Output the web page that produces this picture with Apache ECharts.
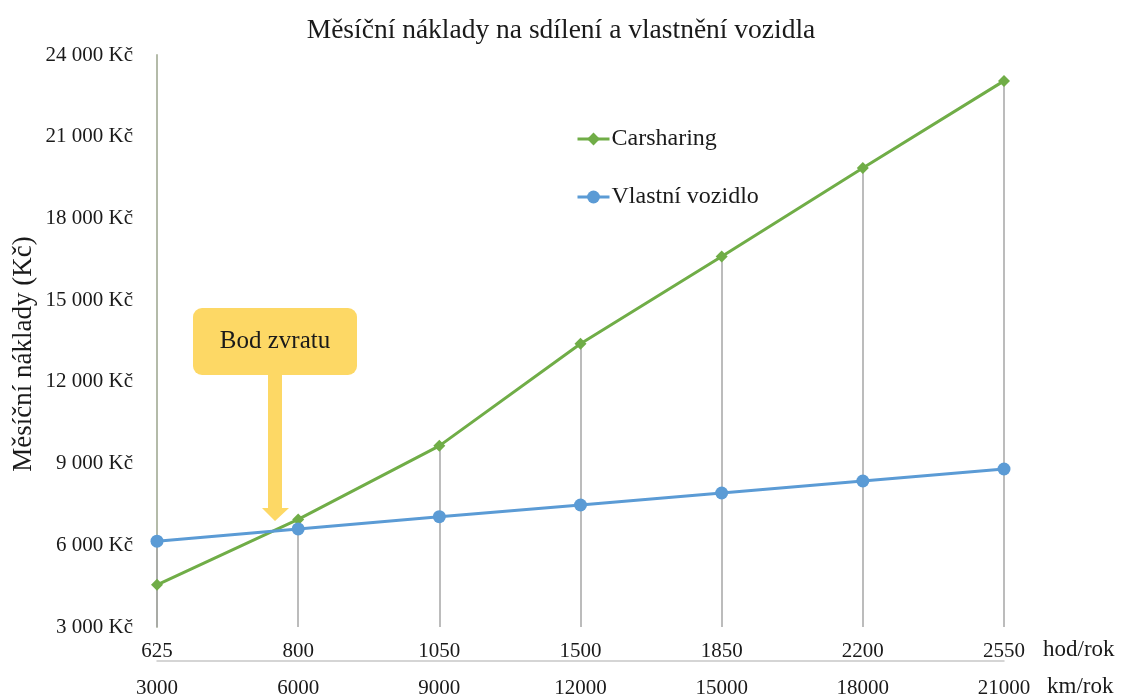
<!DOCTYPE html>
<html>
<head>
<meta charset="utf-8">
<script src="https://cdn.jsdelivr.net/npm/echarts@6/dist/echarts.min.js"></script>
<style>
html,body{margin:0;padding:0;background:#fff;}
#chart{width:1122px;height:695px;}
</style>
</head>
<body>
<div id="chart"></div>
<script>
const hoursPerYear = ['625', '800', '1050', '1500', '1850', '2200', '2550'];
const kmPerYear = ['3000', '6000', '9000', '12000', '15000', '18000', '21000'];
const carsharing = [4550, 6950, 9650, 13400, 16600, 19850, 23050];
const ownCar = [6150, 6600, 7050, 7480, 7920, 8360, 8800];
const yTicks = { min: 3000, max: 24000, interval: 3000 };

const FONT = '"Liberation Serif", "DejaVu Serif", serif';
const TXT = '#1a1a1a';

const dropLines = hoursPerYear.map((h, i) => [
  { coord: [i, Math.max(carsharing[i], ownCar[i])] },
  { coord: [i, yTicks.min] }
]);

function fmt(v) {
  return String(v).replace(/\B(?=(\d{3})+(?!\d))/g, ' ') + ' Kč';
}

const chart = echarts.init(document.getElementById('chart'));
chart.setOption({
  backgroundColor: '#fff',
  animation: false,
  title: {
    text: 'Měsíční náklady na sdílení a vlastnění vozidla',
    left: 'center',
    top: 12,
    textStyle: { fontFamily: FONT, fontSize: 27.5, fontWeight: 'normal', color: TXT }
  },
  legend: {
    orient: 'vertical',
    left: 571,
    top: 122,
    itemGap: 34,
    itemWidth: 32,
    itemHeight: 16,
    lineStyle: { width: 3 },
    textStyle: { fontFamily: FONT, fontSize: 24, color: TXT, padding: [0, 0, 0, -3] },
    data: ['Carsharing', 'Vlastní vozidlo']
  },
  grid: { left: 157, right: 118, top: 55, bottom: 68, outerBoundsMode: 'none' },
  xAxis: [
    {
      type: 'category',
      data: hoursPerYear,
      boundaryGap: false,
      axisLine: { show: false },
      axisTick: { show: false },
      axisLabel: { margin: 14, fontFamily: FONT, fontSize: 21, color: TXT }
    },
    {
      type: 'category',
      data: kmPerYear,
      boundaryGap: false,
      position: 'bottom',
      offset: 34,
      axisLine: { show: true, lineStyle: { color: '#c8c8c8', width: 1.5 } },
      axisTick: { show: false },
      axisLabel: { margin: 17, fontFamily: FONT, fontSize: 21, color: TXT }
    }
  ],
  yAxis: {
    type: 'value',
    min: yTicks.min,
    max: yTicks.max,
    interval: yTicks.interval,
    splitLine: { show: false },
    axisTick: { show: false },
    axisLine: { show: true, lineStyle: { color: '#b4bba9', width: 2 } },
    axisLabel: { margin: 24, fontFamily: FONT, fontSize: 21, color: TXT, formatter: fmt }
  },
  series: [
    {
      name: 'Carsharing',
      type: 'line',
      data: carsharing,
      symbol: 'diamond',
      symbolSize: 12,
      itemStyle: { color: '#70ad47' },
      lineStyle: { color: '#70ad47', width: 3 },
      z: 3,
      markLine: {
        silent: true,
        symbol: 'none',
        label: { show: false },
        lineStyle: { color: '#a6a6a6', width: 1.5, type: 'solid' },
        data: dropLines,
        z: 1
      }
    },
    {
      name: 'Vlastní vozidlo',
      type: 'line',
      data: ownCar,
      symbol: 'circle',
      symbolSize: 13,
      itemStyle: { color: '#5b9bd5' },
      lineStyle: { color: '#5b9bd5', width: 3 },
      z: 4
    }
  ],
  graphic: [
    {
      type: 'text',
      x: 24, y: 354,
      rotation: Math.PI / 2,
      style: { text: 'Měsíční náklady (Kč)', font: '27px ' + FONT, fill: TXT, align: 'center', verticalAlign: 'middle' }
    },
    {
      type: 'text',
      left: 1043, top: 638,
      style: { text: 'hod/rok', font: '23px ' + FONT, fill: TXT }
    },
    {
      type: 'text',
      left: 1047, top: 675,
      style: { text: 'km/rok', font: '23px ' + FONT, fill: TXT }
    },
    {
      type: 'rect',
      shape: { x: 193, y: 308, width: 164, height: 67, r: 9 },
      style: { fill: '#fdd865' },
      z: 10
    },
    {
      type: 'text',
      x: 275, y: 341,
      style: { text: 'Bod zvratu', font: '25px ' + FONT, fill: TXT, align: 'center', verticalAlign: 'middle' },
      z: 11
    },
    {
      type: 'polygon',
      shape: { points: [[268, 375], [282, 375], [282, 508], [289, 508], [275, 521], [262, 508], [268, 508]] },
      style: { fill: '#fdd865' },
      z: 10
    }
  ]
});
</script>
</body>
</html>
